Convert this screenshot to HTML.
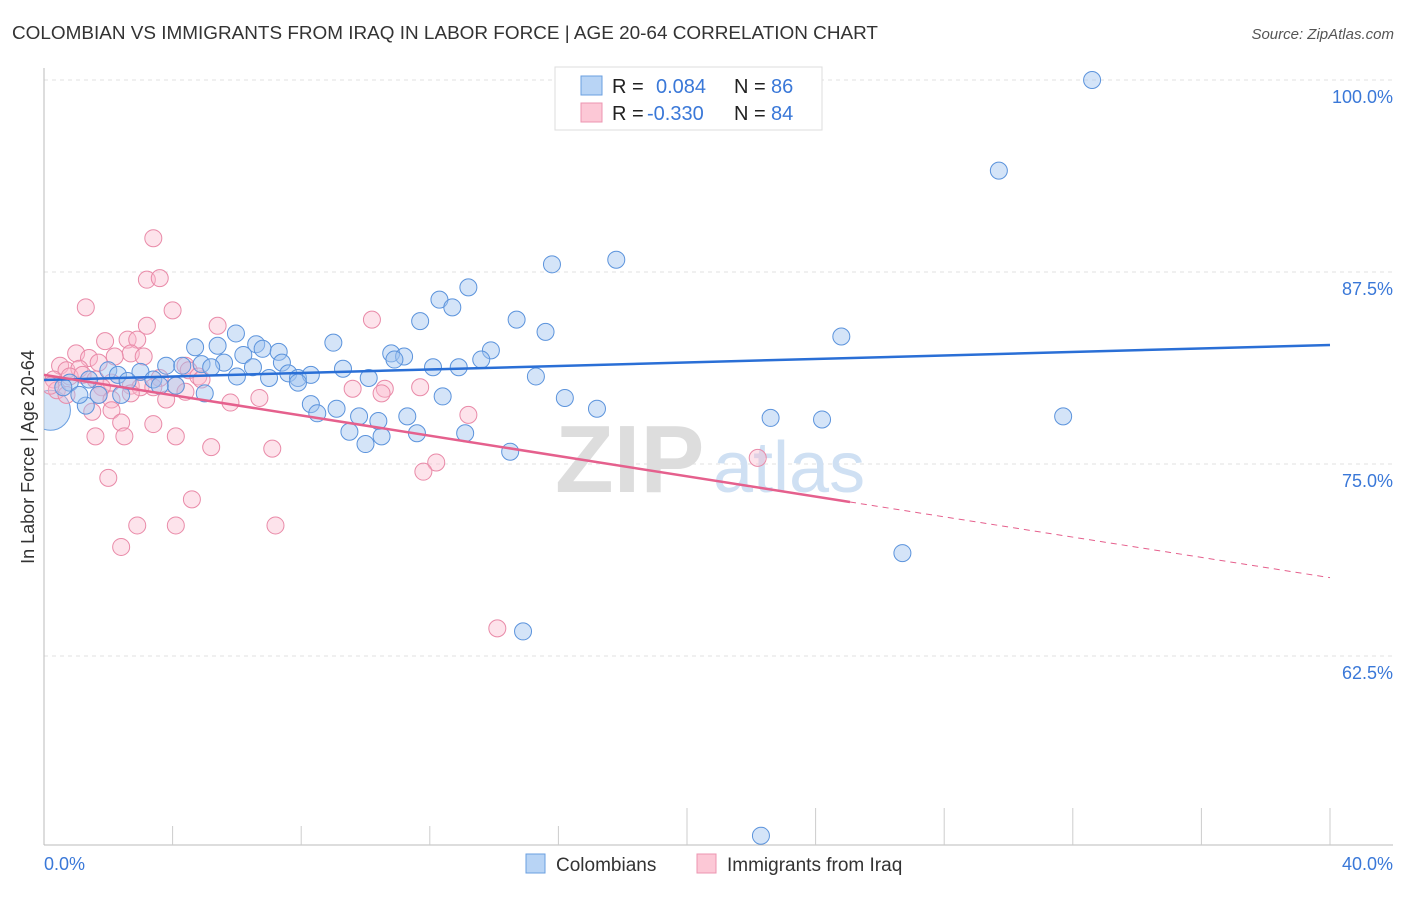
<!DOCTYPE html>
<html><head><meta charset="utf-8">
<style>
body{margin:0;background:#fff;font-family:"Liberation Sans",sans-serif;}
svg text{font-family:"Liberation Sans",sans-serif;}
</style></head>
<body>
<svg id="chart" width="1406" height="892">
<defs><clipPath id="plotclip"><rect x="44" y="60" width="1360" height="785"/></clipPath></defs>
<text x="12" y="39" font-size="18" fill="#333" textLength="866" lengthAdjust="spacingAndGlyphs">COLOMBIAN VS IMMIGRANTS FROM IRAQ IN LABOR FORCE | AGE 20-64 CORRELATION CHART</text>
<text x="1394" y="39" font-size="15" fill="#555" font-style="italic" text-anchor="end">Source: ZipAtlas.com</text>
<text x="34" y="457" font-size="18" fill="#333" text-anchor="middle" transform="rotate(-90 34 457)">In Labor Force | Age 20-64</text>
<g id="grid"></g>
<g><text x="555" y="492" font-size="96" fill="#ddd" font-family="Liberation Serif" font-weight="bold">ZIP</text><text x="713" y="492" font-size="72" fill="#cfe0f3">atlas</text></g>
<g id="points" clip-path="url(#plotclip)"></g>
<g id="lines"></g>
<g>
<rect x="555" y="67" width="267" height="63" fill="#fff" stroke="#ddd"/>
<rect x="581" y="76" width="21" height="19" fill="#b8d4f5" stroke="#6a9fe0"/>
<text x="612" y="93" font-size="20" fill="#222">R = </text><text x="656" y="93" font-size="20" fill="#3a78d8">0.084</text>
<text x="734" y="93" font-size="20" fill="#222">N = </text><text x="771" y="93" font-size="20" fill="#3a78d8">86</text>
<rect x="581" y="103" width="21" height="19" fill="#fcc8d6" stroke="#ec95b0"/>
<text x="612" y="120" font-size="20" fill="#222">R = </text><text x="647" y="120" font-size="20" fill="#3a78d8">-0.330</text>
<text x="734" y="120" font-size="20" fill="#222">N = </text><text x="771" y="120" font-size="20" fill="#3a78d8">84</text>
</g>
<g>
<rect x="526" y="854" width="19" height="19" fill="#b8d4f5" stroke="#6a9fe0"/>
<text x="556" y="871" font-size="19" fill="#333">Colombians</text>
<rect x="697" y="854" width="19" height="19" fill="#fcc8d6" stroke="#ec95b0"/>
<text x="727" y="871" font-size="19" fill="#333">Immigrants from Iraq</text>
</g>
</svg>
<script>
const xTicks=[0,4,8,12,16,20,24,28,32,36,40];
const yTicks=[100,87.5,75,62.5];
const yTickLabels=["100.0%","87.5%","75.0%","62.5%"];
const blueX=[32.6,29.7,15.8,17.8,13.2,12.3,12.7,11.7,14.7,15.6,24.8,5.97,9.0,5.4,6.6,6.8,7.3,4.7,6.2,10.8,11.2,10.9,13.9,13.6,7.4,5.6,3.8,4.3,4.9,5.2,6.5,9.3,12.1,12.9,7.6,6.0,7.0,7.9,8.3,10.1,15.3,7.9,3.0,2.0,2.3,2.6,3.4,4.1,1.4,0.8,0.6,5.0,12.4,16.2,17.2,8.3,9.1,1.3,1.7,8.5,9.8,11.3,10.4,22.6,24.2,31.7,9.5,11.6,10.5,13.1,10.0,14.5,26.7,14.9,22.3,1.1,2.4,3.6];
const blueY=[100.0,94.1,88.0,88.3,86.5,85.7,85.2,84.3,84.4,83.6,83.3,83.5,82.9,82.7,82.8,82.5,82.3,82.6,82.1,82.2,82.0,81.8,82.4,81.8,81.6,81.6,81.4,81.4,81.5,81.3,81.3,81.2,81.3,81.3,80.9,80.7,80.6,80.6,80.8,80.6,80.7,80.3,81.0,81.1,80.8,80.4,80.5,80.1,80.5,80.3,80.0,79.6,79.4,79.3,78.6,78.9,78.6,78.8,79.5,78.3,78.1,78.1,77.8,78.0,77.9,78.1,77.1,77.0,76.8,77.0,76.3,75.8,69.2,64.1,50.8,79.5,79.5,80.1];
const pinkX=[3.4,3.2,3.6,1.3,4.0,10.2,5.4,3.2,1.9,2.6,2.9,1.0,2.7,3.1,2.2,1.4,0.5,0.7,1.7,4.4,4.5,1.1,0.8,1.2,1.6,2.1,2.7,3.6,4.8,4.9,0.3,0.4,1.8,3.0,3.4,4.1,4.4,9.6,10.6,11.7,10.5,1.7,2.7,3.8,5.8,6.7,2.1,1.5,2.1,2.4,3.4,13.2,1.6,2.5,4.1,5.2,7.1,12.2,11.8,22.2,2.0,4.6,2.9,4.1,7.2,2.4,14.1,0.2,0.7];
const pinkY=[89.7,87.0,87.1,85.2,85.0,84.4,84.0,84.0,83.0,83.1,83.1,82.2,82.2,82.0,82.0,81.9,81.4,81.1,81.6,81.4,81.1,81.2,80.7,80.8,80.5,80.3,80.1,80.6,80.7,80.5,80.5,79.8,80.0,80.0,80.0,80.1,79.7,79.9,79.9,80.0,79.6,79.5,79.6,79.2,79.0,79.3,79.2,78.4,78.5,77.7,77.6,78.2,76.8,76.8,76.8,76.1,76.0,75.1,74.5,75.4,74.1,72.7,71.0,71.0,71.0,69.6,64.3,80.1,79.5];
const blueTrend=[80.47,82.75];
const pinkTrend=[80.8,67.6];
const pinkSolidEnd=25.07;
const bigPoint=[0.2,78.5];

const sx=v=>44+v/40*1286;
const sy=v=>80+(100-v)/12.5*192;
const NS="http://www.w3.org/2000/svg";
function mk(tag,attrs,parent){const e=document.createElementNS(NS,tag);for(const k in attrs)e.setAttribute(k,attrs[k]);parent.appendChild(e);return e;}
const grid=document.getElementById('grid');
yTicks.forEach((t,i)=>{
  const l=mk('line',{x1:44,x2:1393,y1:sy(t),y2:sy(t),stroke:'#e2e2e2','stroke-dasharray':'4,4'},grid);
  
  
  const tx=mk('text',{x:1393,y:sy(t)+23,'font-size':18,fill:'#3a78d8','text-anchor':'end'},grid);
  tx.textContent=yTickLabels[i];
  
  
});
const ax=mk('line',{x1:44,x2:44,y1:68,y2:845,stroke:'#bbb'},grid);


const bx=mk('line',{x1:44,x2:1393,y1:845,y2:845,stroke:'#bbb'},grid);


xTicks.forEach(t=>{
  if(t===0)return;
  const tk=mk('line',{x1:sx(t),x2:sx(t),y1:t>=20?808:826,y2:845,stroke:'#ccc'},grid);
  
  
});
const xl0=mk('text',{x:44,y:870,'font-size':18,fill:'#3a78d8'},grid);xl0.textContent='0.0%';


const xl1=mk('text',{x:1393,y:870,'font-size':18,fill:'#3a78d8','text-anchor':'end'},grid);xl1.textContent='40.0%';



const pts=document.getElementById('points');
const bp=mk('circle',{cx:sx(bigPoint[0]),cy:sy(bigPoint[1]),r:20,fill:'rgba(160,196,240,0.45)',stroke:'#6a9fe0','stroke-width':1},pts);


pinkX.forEach((x,i)=>{
  const c=mk('circle',{cx:sx(x),cy:sy(pinkY[i]),r:8.5,fill:'rgba(250,185,205,0.4)',stroke:'#e98aa8','stroke-width':1},pts);
  
  
});
blueX.forEach((x,i)=>{
  const c=mk('circle',{cx:sx(x),cy:sy(blueY[i]),r:8.5,fill:'rgba(160,196,240,0.45)',stroke:'#5b93dc','stroke-width':1},pts);
  
  
});
const lines=document.getElementById('lines');
const bl=mk('line',{x1:sx(0),y1:sy(blueTrend[0]),x2:sx(40),y2:sy(blueTrend[1]),stroke:'#2a6fd6','stroke-width':2.5},lines);


const pe=pinkTrend[0]+(pinkTrend[1]-pinkTrend[0])*pinkSolidEnd/40;
const pl=mk('line',{x1:sx(0),y1:sy(pinkTrend[0]),x2:sx(pinkSolidEnd),y2:sy(pe),stroke:'#e5608d','stroke-width':2.5},lines);


const pd=mk('line',{x1:sx(pinkSolidEnd),y1:sy(pe),x2:sx(40),y2:sy(pinkTrend[1]),stroke:'#e5608d','stroke-width':1,'stroke-dasharray':'6,5'},lines);


</script>
</body></html>
